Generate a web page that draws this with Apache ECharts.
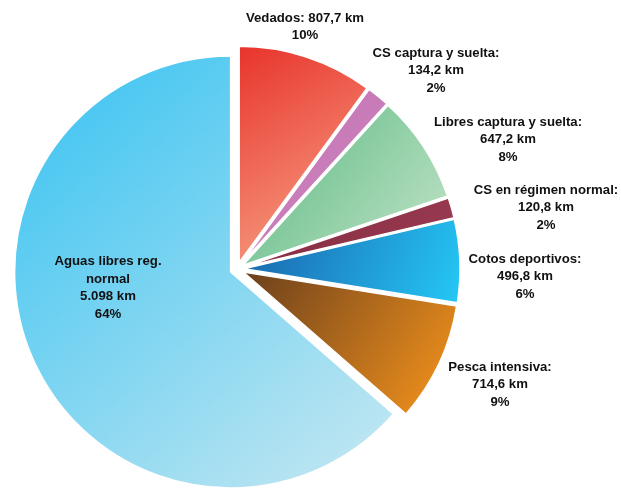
<!DOCTYPE html>
<html>
<head>
<meta charset="utf-8">
<script src="https://cdn.jsdelivr.net/npm/echarts@6/dist/echarts.min.js"></script>
<style>
  html, body { margin: 0; padding: 0; background: #fff; }
  #chart { width: 621px; height: 488px; }
</style>
</head>
<body>
<div id="chart"></div>
<script>
// Longitud de tramos de pesca por tipo (km)
const categories = [
  'Vedados',
  'CS captura y suelta',
  'Libres captura y suelta',
  'CS en régimen normal',
  'Cotos deportivos',
  'Pesca intensiva',
  'Aguas libres reg. normal'
];
const kmValues = [807.7, 134.2, 647.2, 120.8, 496.8, 714.6, 5098];

// Colores de degradado (inicio, fin) de cada sector
const gradientColors = [
  ['#e8332c', '#f8ac8c'],
  ['#c273b2', '#cf86c0'],
  ['#58b882', '#c4e4c8'],
  ['#862c42', '#983a50'],
  ['#1a62aa', '#25c8f6'],
  ['#6a3f1c', '#f9961c'],
  ['#36c2f2', '#c8e8f1']
];

// Centro de cada etiqueta
const labelPos = [
  [305, 27], [436, 71], [508, 140], [546, 208], [525, 277], [500, 385], [108, 288]
];

const total = kmValues.reduce((a, b) => a + b, 0);

function fmtKm(v) {
  if (Number.isInteger(v)) {
    return v.toLocaleString('de-DE') + ' km';
  }
  return v.toFixed(1).replace('.', ',') + ' km';
}

function labelText(i) {
  const name = categories[i];
  const km = fmtKm(kmValues[i]);
  const pct = Math.round(kmValues[i] / total * 100) + '%';
  if (i === 0) return name + ': ' + km + '\n' + pct;
  if (i === categories.length - 1) {
    return name.replace(' reg. ', ' reg.\n') + '\n' + km + '\n' + pct;
  }
  return name + ':\n' + km + '\n' + pct;
}

const seriesData = categories.map((name, i) => ({
  name: name,
  value: kmValues[i],
  selected: true,
  itemStyle: {
    color: new echarts.graphic.LinearGradient(0, 0, 1, 1, [
      { offset: 0, color: gradientColors[i][0] },
      { offset: 1, color: gradientColors[i][1] }
    ])
  }
}));

const labelGraphics = categories.map((name, i) => ({
  type: 'text',
  x: labelPos[i][0],
  y: labelPos[i][1],
  scaleX: 1.1,
  silent: true,
  z: 10,
  style: {
    text: labelText(i),
    align: 'center',
    verticalAlign: 'middle',
    fontFamily: 'Liberation Sans, Arial, sans-serif',
    fontWeight: 'bold',
    fontSize: 12,
    lineHeight: 17.5,
    fill: '#111'
  }
}));

const chart = echarts.init(document.getElementById('chart'), null, { renderer: 'canvas' });
chart.setOption({
  animation: false,
  backgroundColor: '#ffffff',
  graphic: labelGraphics,
  series: [{
    type: 'pie',
    center: [237, 269],
    radius: [0, 216],
    startAngle: 90,
    clockwise: true,
    selectedMode: 'multiple',
    selectedOffset: 7,
    itemStyle: { borderColor: '#ffffff', borderWidth: 1.5 },
    emphasis: { disabled: true },
    label: { show: false },
    labelLine: { show: false },
    data: seriesData
  }]
});
</script>
</body>
</html>
